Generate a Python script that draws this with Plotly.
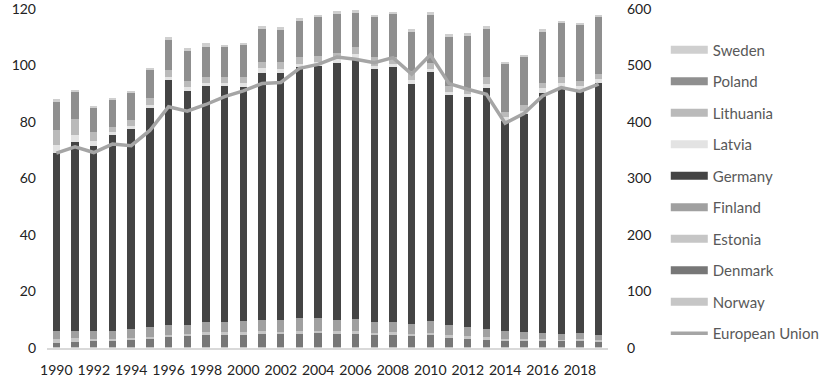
import plotly.graph_objects as go

years = list(range(1990, 2020))

norway = [0.3] * 30
denmark = [1.5, 1.7, 2.1, 2.3, 2.4, 3.0, 3.5, 3.8, 4.3, 4.5, 4.4, 4.7, 4.7, 4.7, 4.9,
           4.7, 4.7, 4.2, 4.4, 3.8, 4.2, 3.3, 3.0, 2.8, 2.3, 2.3, 2.3, 2.2, 2.3, 2.1]
estonia = [1.5, 1.4, 0.9, 0.7, 0.8, 0.7, 0.8, 0.9, 0.9, 0.7, 0.8, 0.9, 0.8, 0.9, 0.9,
           0.9, 0.9, 0.9, 0.8, 0.9, 0.8, 0.9, 0.8, 0.7, 0.7, 0.6, 0.5, 0.5, 0.6, 0.5]
finland = [2.6, 2.7, 2.6, 2.6, 3.1, 3.3, 3.5, 3.1, 3.6, 3.6, 3.9, 4.0, 4.1, 4.7, 4.4,
           4.0, 4.4, 3.9, 3.7, 3.5, 4.1, 3.5, 3.2, 3.0, 2.6, 2.3, 2.1, 2.0, 2.0, 1.8]
germany = [63.2, 66.9, 65.7, 69.5, 70.9, 77.5, 86.8, 83.0, 83.6, 83.6, 83.1, 87.6, 87.3,
           88.7, 89.3, 91.1, 92.2, 89.3, 90.1, 85.0, 88.3, 81.5, 81.7, 85.4, 74.3, 77.2,
           85.1, 87.3, 86.3, 89.1]
latvia = [2.8, 2.4, 1.8, 1.2, 1.1, 1.2, 1.1, 1.2, 1.2, 1.2, 1.2, 1.5, 1.6, 1.3, 1.4,
          1.3, 1.4, 1.4, 1.4, 1.3, 1.2, 1.0, 0.9, 1.3, 1.4, 1.3, 1.6, 1.6, 1.2, 1.3]
lithuania = [5.3, 5.7, 2.9, 1.5, 2.1, 2.4, 2.4, 2.3, 2.1, 2.1, 2.1, 2.3, 2.3, 2.5, 2.2,
             2.1, 2.8, 2.9, 2.4, 3.1, 2.1, 2.2, 2.0, 2.3, 2.0, 2.0, 1.8, 2.1, 1.8, 1.9]
poland = [10.2, 9.4, 8.9, 9.7, 9.5, 10.0, 10.9, 10.6, 10.7, 10.4, 11.5, 11.7, 11.5, 12.8,
          13.7, 13.8, 12.0, 14.2, 15.1, 13.8, 16.9, 17.3, 18.5, 17.2, 16.8, 16.9, 18.0,
          18.9, 19.8, 20.1]
sweden = [0.7, 0.8, 0.6, 0.6, 0.8, 0.8, 0.7, 0.9, 1.2, 0.9, 0.8, 1.0, 0.9, 0.8, 0.9,
          1.0, 0.9, 0.8, 0.9, 1.1, 1.2, 1.0, 1.0, 1.0, 0.9, 0.8, 1.1, 1.0, 0.9, 0.8]
european_union = [345, 356, 346, 361, 358, 385, 427, 419, 431, 445, 455, 468, 470, 495,
                  502, 515, 511, 505, 514, 485, 519, 468, 458, 449, 398, 415, 446, 461,
                  454, 467]

left_ticks = [0, 20, 40, 60, 80, 100, 120]
right_ticks = [0, 100, 200, 300, 400, 500, 600]
year_ticks = list(range(1990, 2019, 2))

series = [
    ("Norway", norway, "#c6c6c6"),
    ("Denmark", denmark, "#777777"),
    ("Estonia", estonia, "#c6c6c6"),
    ("Finland", finland, "#a0a0a0"),
    ("Germany", germany, "#444444"),
    ("Latvia", latvia, "#e3e3e3"),
    ("Lithuania", lithuania, "#bababa"),
    ("Poland", poland, "#8f8f8f"),
    ("Sweden", sweden, "#cfcfcf"),
]

FONT = "Lato, 'Open Sans', sans-serif"
fig = go.Figure()
n = len(series)
for i, (name, vals, col) in enumerate(series):
    fig.add_trace(go.Bar(x=years, y=vals, name=name, marker=dict(color=col, line=dict(width=0)),
                         showlegend=False, yaxis="y"))
# legend entries
for i, (name, vals, col) in enumerate(series):
    fig.add_trace(go.Scatter(x=[None], y=[None], mode="lines", name=name,
                             line=dict(color=col, width=8), legendrank=n - i,
                             legendgroup=name, showlegend=True))
fig.add_trace(go.Scatter(x=years, y=european_union, mode="lines", name="European Union",
                         line=dict(color="#a5a5a5", width=3.5), yaxis="y2",
                         legendrank=n + 1, legendgroup="eu"))

fig.update_layout(
    width=826, height=381,
    margin=dict(l=47, r=218, t=9, b=33, autoexpand=False),
    paper_bgcolor="white", plot_bgcolor="white",
    barmode="stack", bargap=0.6,
    font=dict(family=FONT, size=14, color="#222222"),
    xaxis=dict(tickmode="array", tickvals=year_ticks, ticktext=[str(y) for y in year_ticks],
               range=[1989.5, 2019.5], showgrid=False, showline=True, linecolor="#d9d9d9",
               linewidth=1.5, ticks="", zeroline=False, ticklabelstandoff=8, automargin=False,
               tickfont=dict(size=14, color="#222222")),
    yaxis=dict(range=[0, 120.0001], tickvals=left_ticks, showgrid=False, zeroline=False,
               ticks="", ticklabelstandoff=10, automargin=False, ticklabeloverflow="allow",
               tickfont=dict(size=14, color="#222222")),
    yaxis2=dict(range=[0, 600.0005], tickvals=right_ticks, overlaying="y", side="right",
                showgrid=False, zeroline=False, ticks="", ticklabelstandoff=18,
                automargin=False, ticklabeloverflow="allow",
                tickfont=dict(size=14, color="#222222")),
    legend=dict(x=1.103, y=0.928, xanchor="left", yanchor="top", traceorder="grouped",
                tracegroupgap=9, font=dict(size=15, color="#595959"),
                bgcolor="rgba(0,0,0,0)", itemwidth=37),
)

fig.write_html("out.html")
